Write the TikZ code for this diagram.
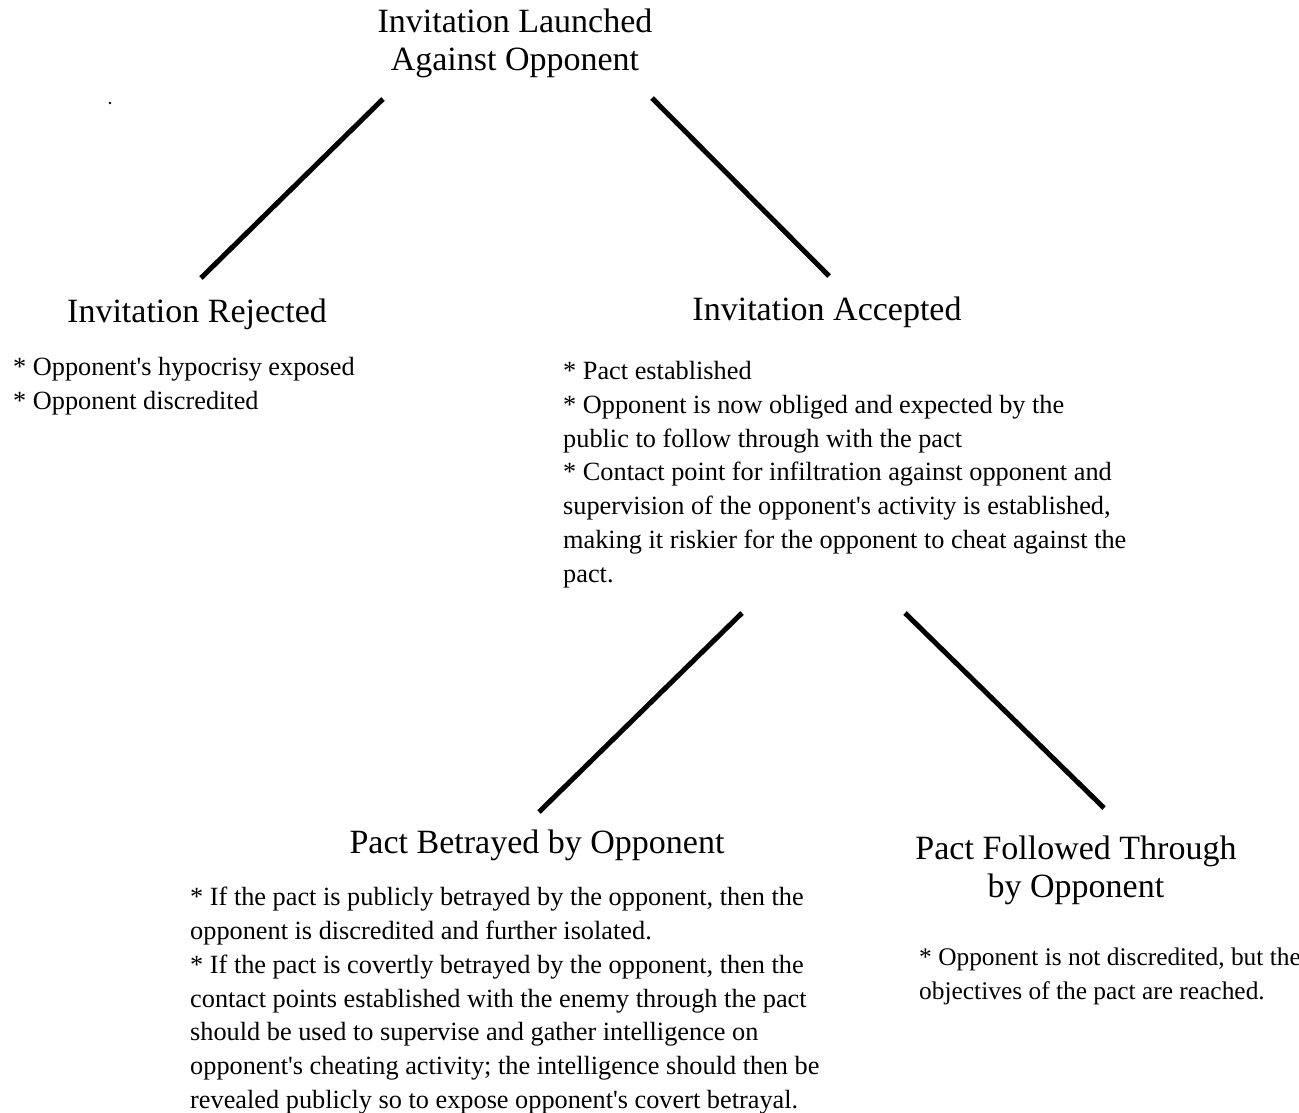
\documentclass[tikz,border=0pt]{standalone}
\usepackage{fontspec}
\setmainfont{Liberation Serif}
\newcommand{\aps}{\textquotesingle}
\begin{document}
\begin{tikzpicture}[x=1pt,y=-1pt,
  head/.style={inner sep=0pt,align=center,font=\fontsize{34}{37.5}\selectfont},
  body/.style={inner sep=0pt,align=left,anchor=north west,font=\fontsize{26.3}{33.8}\selectfont},
  link/.style={line width=5pt}]
\useasboundingbox (0,0) rectangle (1299,1112);
% headings
\node[head,anchor=north] (top) at (515,9) {Invitation Launched\\Against Opponent};
\node[head,anchor=north] (rej) at (197,299) {Invitation Rejected};
\node[head,anchor=north] (acc) at (827,297) {Invitation Accepted};
\node[head,anchor=north] (bet) at (537,830) {Pact Betrayed by Opponent};
\node[head,anchor=north] (fol) at (1076,836) {Pact Followed Through\\by Opponent};
% bodies
\node[body] (rejb) at (13,357) {* Opponent\aps s hypocrisy exposed\\* Opponent discredited};
\node[body] (accb) at (563,361) {* Pact established\\
* Opponent is now obliged and expected by the\\
public to follow through with the pact\\
* Contact point for infiltration against opponent and\\
supervision of the opponent\aps s activity is established,\\
making it riskier for the opponent to cheat against the\\
pact.};
\node[body] (betb) at (190,887) {* If the pact is publicly betrayed by the opponent, then the\\
opponent is discredited and further isolated.\\
* If the pact is covertly betrayed by the opponent, then the\\
contact points established with the enemy through the pact\\
should be used to supervise and gather intelligence on\\
opponent\aps s cheating activity; the intelligence should then be\\
revealed publicly so to expose opponent\aps s covert betrayal.};
\node[body,font=\fontsize{25.4}{33.8}\selectfont] (folb) at (919,948) {* Opponent is not discredited, but the\\
objectives of the pact are reached.};
% connector ends
\coordinate (l1a) at (383,99);  \coordinate (l1b) at (201,278);
\coordinate (l2a) at (652,98);  \coordinate (l2b) at (829,276);
\coordinate (l3a) at (742,613); \coordinate (l3b) at (539,812);
\coordinate (l4a) at (905,613); \coordinate (l4b) at (1104,808);
\draw[link] (l1a) -- (l1b);
\draw[link] (l2a) -- (l2b);
\draw[link] (l3a) -- (l3b);
\draw[link] (l4a) -- (l4b);
\fill (110,103) circle (1.3);
\end{tikzpicture}
\end{document}
